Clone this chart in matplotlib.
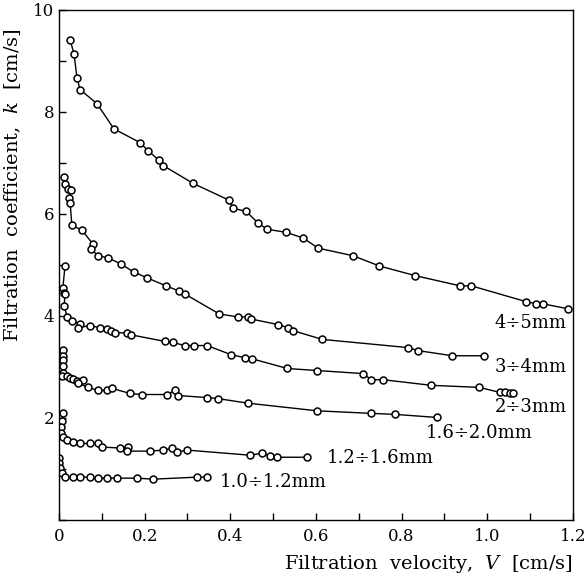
import matplotlib
matplotlib.use("Agg")
import matplotlib.pyplot as plt
from matplotlib.ticker import MultipleLocator, FixedLocator

plt.rcParams["font.family"] = "DejaVu Serif"
plt.rcParams["mathtext.fontset"] = "dejavuserif"

# 4÷5 mm
v_45 = [0.026, 0.035, 0.042, 0.049, 0.089, 0.128, 0.189, 0.208, 0.234, 0.243, 0.313,
        0.397, 0.407, 0.437, 0.465, 0.486, 0.530, 0.570, 0.605, 0.687, 0.748, 0.832,
        0.937, 0.963, 1.091, 1.114, 1.129, 1.189]
k_45 = [9.41, 9.14, 8.67, 8.44, 8.16, 7.67, 7.40, 7.24, 7.05, 6.95, 6.60,
        6.27, 6.11, 6.05, 5.82, 5.70, 5.64, 5.53, 5.33, 5.18, 4.98, 4.79,
        4.59, 4.59, 4.28, 4.24, 4.24, 4.14]

# 3÷4 mm
v_34 = [0.012, 0.014, 0.021, 0.028, 0.023, 0.026, 0.030, 0.054, 0.079, 0.075, 0.091,
        0.115, 0.144, 0.175, 0.205, 0.250, 0.280, 0.294, 0.374, 0.418, 0.441, 0.449,
        0.512, 0.535, 0.547, 0.615, 0.815, 0.839, 0.918, 0.993]
k_34 = [6.72, 6.58, 6.48, 6.46, 6.31, 6.21, 5.78, 5.68, 5.41, 5.31, 5.18,
        5.14, 5.02, 4.86, 4.75, 4.59, 4.49, 4.43, 4.04, 3.98, 3.98, 3.94,
        3.83, 3.77, 3.71, 3.54, 3.38, 3.32, 3.22, 3.22]

# 2÷3 mm
v_23 = [0.014, 0.009, 0.012, 0.014, 0.012, 0.019, 0.030, 0.049, 0.044, 0.072, 0.096,
        0.112, 0.121, 0.131, 0.159, 0.168, 0.248, 0.266, 0.294, 0.315, 0.346, 0.402,
        0.435, 0.451, 0.533, 0.603, 0.710, 0.729, 0.757, 0.869, 0.981, 1.030, 1.042,
        1.054, 1.061]
k_23 = [4.98, 4.55, 4.45, 4.43, 4.20, 3.98, 3.91, 3.85, 3.77, 3.81, 3.77,
        3.75, 3.71, 3.67, 3.67, 3.63, 3.50, 3.48, 3.42, 3.42, 3.42, 3.24,
        3.18, 3.16, 2.97, 2.93, 2.87, 2.75, 2.75, 2.64, 2.60, 2.50, 2.50,
        2.48, 2.48]

# 1.6÷2.0 mm
v_1620 = [0.009, 0.009, 0.009, 0.009, 0.009, 0.007, 0.019, 0.026, 0.033, 0.042, 0.056,
          0.044, 0.068, 0.091, 0.112, 0.124, 0.166, 0.194, 0.252, 0.271, 0.278, 0.346,
          0.371, 0.441, 0.603, 0.729, 0.785, 0.883]
k_1620 = [3.34, 3.22, 3.13, 3.01, 2.89, 2.83, 2.83, 2.79, 2.77, 2.73, 2.75,
          2.68, 2.60, 2.54, 2.54, 2.58, 2.48, 2.46, 2.46, 2.54, 2.44, 2.40,
          2.38, 2.29, 2.14, 2.09, 2.07, 2.01]

# 1.2÷1.6 mm
v_1216 = [0.009, 0.007, 0.005, 0.005, 0.009, 0.019, 0.033, 0.049, 0.072, 0.091, 0.100,
          0.142, 0.161, 0.159, 0.213, 0.243, 0.264, 0.276, 0.299, 0.446, 0.474, 0.493,
          0.509, 0.579]
k_1216 = [2.09, 1.95, 1.82, 1.70, 1.62, 1.56, 1.52, 1.50, 1.50, 1.50, 1.43,
          1.41, 1.43, 1.35, 1.35, 1.37, 1.41, 1.33, 1.37, 1.27, 1.31, 1.25,
          1.23, 1.23]

# 1.0÷1.2 mm
v_1012 = [0.001, 0.001, 0.002, 0.007, 0.014, 0.033, 0.049, 0.072, 0.091, 0.112, 0.136,
          0.182, 0.220, 0.322, 0.346]
k_1012 = [1.21, 1.11, 1.02, 0.92, 0.84, 0.84, 0.84, 0.84, 0.82, 0.82, 0.82,
          0.82, 0.80, 0.84, 0.84]

series = [
    (v_45, k_45, "4÷5mm", 1.185, 3.87, "right"),
    (v_34, k_34, "3÷4mm", 1.185, 2.99, "right"),
    (v_23, k_23, "2÷3mm", 1.185, 2.21, "right"),
    (v_1620, k_1620, "1.6÷2.0mm", 1.107, 1.70, "right"),
    (v_1216, k_1216, "1.2÷1.6mm", 0.626, 1.21, "left"),
    (v_1012, k_1012, "1.0÷1.2mm", 0.376, 0.74, "left"),
]

fig = plt.figure(figsize=(5.86, 5.75), dpi=100)
ax = fig.add_axes([0.1007, 0.0957, 0.877, 0.887])

for v, k, name, tx, ty, ha in series:
    ax.plot(v, k, color="black", linewidth=1.0, marker="o", markersize=5,
            markerfacecolor="white", markeredgecolor="black", markeredgewidth=1.1)
    ax.text(tx, ty, name, ha=ha, va="center", fontsize=13)

ax.set_xlim(0, 1.2)
ax.set_ylim(0, 10)
ax.xaxis.set_major_locator(FixedLocator([0, 0.2, 0.4, 0.6, 0.8, 1.0, 1.2]))
ax.xaxis.set_minor_locator(MultipleLocator(0.1))
ax.set_xticklabels(["0", "0.2", "0.4", "0.6", "0.8", "1.0", "1.2"])
ax.yaxis.set_major_locator(FixedLocator([2, 4, 6, 8, 10]))
ax.yaxis.set_minor_locator(MultipleLocator(1))
ax.tick_params(which="both", direction="in", top=False, right=False, labelsize=12,
               width=1.0, length=5)
ax.tick_params(axis="x", pad=6)

ax.set_xlabel("Filtration  velocity,  $\\mathit{V}$  [cm/s]", fontsize=14, ha="right")
ax.xaxis.set_label_coords(1.0, -0.065)
ax.set_ylabel("Filtration  coefficient,  $\\mathit{k}$  [cm/s]", fontsize=14)
ax.yaxis.set_label_coords(-0.07, 0.657)

for s in ax.spines.values():
    s.set_linewidth(1.0)

fig.savefig("out.png", dpi=100)
